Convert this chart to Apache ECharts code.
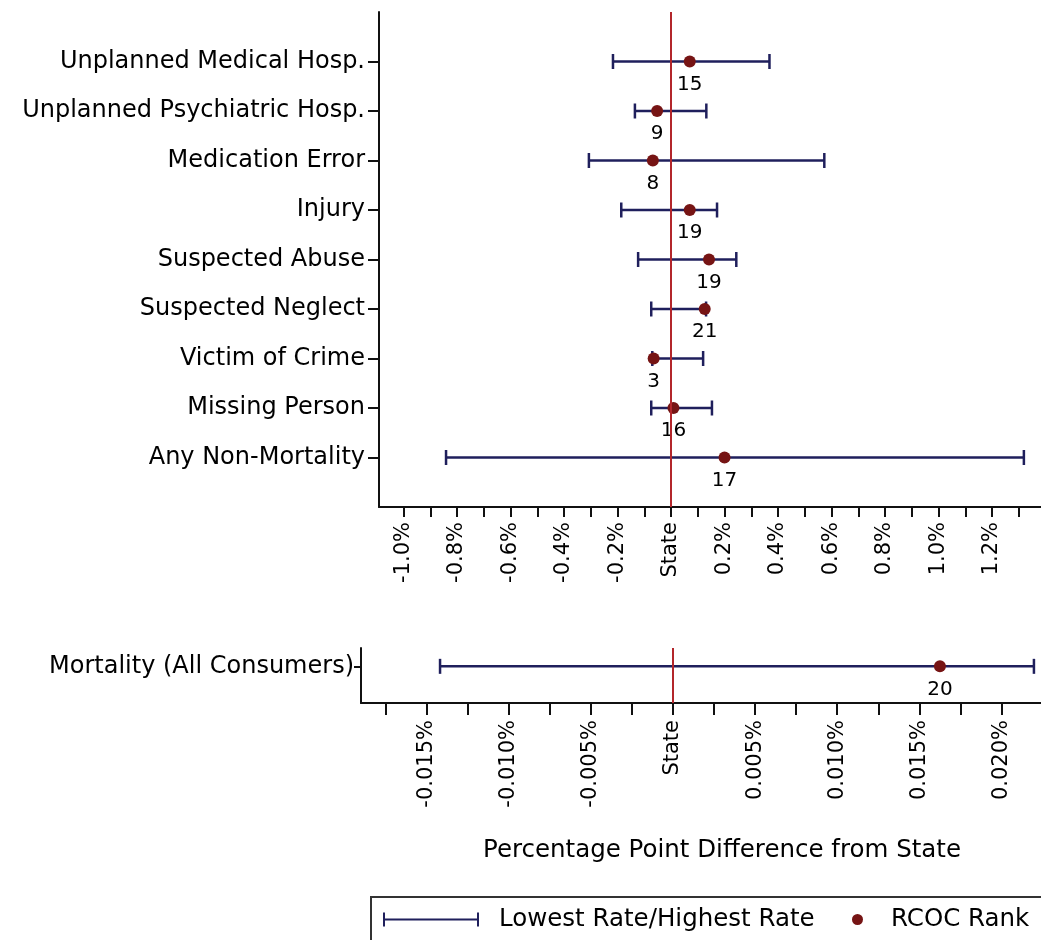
<!DOCTYPE html>
<html>
<head>
<meta charset="utf-8">
<script src="https://cdn.jsdelivr.net/npm/echarts@6/dist/echarts.min.js"></script>
<style>
  html, body { margin: 0; padding: 0; background: #fff; overflow: hidden; }
  #chart { width: 1041px; height: 940px; }
</style>
</head>
<body>
<div id="chart"></div>
<script>
// Non-mortality measures, listed top to bottom (percentage point difference from State)
const measures = ['Unplanned Medical Hosp.', 'Unplanned Psychiatric Hosp.', 'Medication Error', 'Injury',
  'Suspected Abuse', 'Suspected Neglect', 'Victim of Crime', 'Missing Person', 'Any Non-Mortality'];
const lowestRate  = [-0.217, -0.135, -0.307, -0.186, -0.123, -0.074, -0.070, -0.074, -0.841];
const highestRate = [0.368, 0.132, 0.573, 0.172, 0.244, 0.131, 0.120, 0.153, 1.319];
const rcocValue   = [0.070, -0.052, -0.068, 0.070, 0.142, 0.126, -0.065, 0.009, 0.200];
const rcocRank    = [15, 9, 8, 19, 19, 21, 3, 16, 17];

// Mortality (all consumers)
const mortalityLabel = 'Mortality (All Consumers)';
const mortalityLow = -0.01417;
const mortalityHigh = 0.02197;
const mortalityValue = 0.01625;
const mortalityRank = 20;

// Axis ticks and labels
const topLabelTicks = [-1.0, -0.8, -0.6, -0.4, -0.2, 0, 0.2, 0.4, 0.6, 0.8, 1.0, 1.2];
const topMinorTicks = [-1.0, -0.9, -0.8, -0.7, -0.6, -0.5, -0.4, -0.3, -0.2, -0.1, 0, 0.1, 0.2, 0.3,
  0.4, 0.5, 0.6, 0.7, 0.8, 0.9, 1.0, 1.1, 1.2, 1.3];
const bottomLabelTicks = [-0.015, -0.010, -0.005, 0, 0.005, 0.010, 0.015, 0.020];
const bottomMinorTicks = [-0.0175, -0.015, -0.0125, -0.010, -0.0075, -0.005, -0.0025, 0, 0.0025,
  0.005, 0.0075, 0.010, 0.0125, 0.015, 0.0175, 0.020];

const FONT = 'DejaVu Sans';
const NAVY = '#1f1f5c';
const DOT = '#761414';
const REF = '#b3262b';
const BAR_NAME = 'Lowest Rate/Highest Rate';
const DOT_NAME = 'RCOC Rank';

const n = measures.length;
const topBars = measures.map((m, i) => [n - i, lowestRate[i], highestRate[i]]);
const topDots = measures.map((m, i) => [rcocValue[i], n - i, rcocRank[i]]);

function renderErrorBar(params, api) {
  const y = api.value(0);
  const a = api.coord([api.value(1), y]);
  const b = api.coord([api.value(2), y]);
  const h = 7.5;
  const style = { stroke: NAVY, lineWidth: 2.5, fill: null };
  return {
    type: 'group',
    children: [
      { type: 'line', shape: { x1: a[0], y1: a[1], x2: b[0], y2: b[1] }, style },
      { type: 'line', shape: { x1: a[0], y1: a[1] - h, x2: a[0], y2: a[1] + h }, style },
      { type: 'line', shape: { x1: b[0], y1: b[1] - h, x2: b[0], y2: b[1] + h }, style }
    ]
  };
}

const axisLine = { show: true, onZero: false, lineStyle: { color: '#111', width: 2 } };
const tickStyle = { color: '#111', width: 2 };

const refLine = {
  silent: true,
  symbol: 'none',
  label: { show: false },
  lineStyle: { color: REF, width: 2, type: 'solid' },
  data: [{ xAxis: 0 }]
};

const rankLabel = {
  show: true,
  position: 'bottom',
  distance: 7,
  color: '#000',
  fontFamily: FONT,
  fontSize: 20,
  formatter: p => String(p.value[2])
};

const chart = echarts.init(document.getElementById('chart'), null, { renderer: 'canvas' });

chart.setOption({
  backgroundColor: '#fff',
  animation: false,
  textStyle: { fontFamily: FONT },
  grid: [
    { left: 379, top: 12, right: 0, height: 495 },
    { left: 361, top: 648, right: 0, height: 55 }
  ],
  xAxis: [
    {
      type: 'value', gridIndex: 0, min: -1.0916, max: 1.383,
      splitLine: { show: false },
      axisLine,
      axisTick: { show: true, length: 10, lineStyle: tickStyle, customValues: topMinorTicks },
      axisLabel: {
        rotate: 90, margin: 15, color: '#000', fontFamily: FONT, fontSize: 21,
        customValues: topLabelTicks,
        formatter: v => (Math.abs(v) < 1e-9 ? 'State' : v.toFixed(1) + '%')
      }
    },
    {
      type: 'value', gridIndex: 1, min: -0.01898, max: 0.0224,
      splitLine: { show: false },
      axisLine,
      axisTick: { show: true, length: 12, lineStyle: tickStyle, customValues: bottomMinorTicks },
      axisLabel: {
        rotate: 90, margin: 17, color: '#000', fontFamily: FONT, fontSize: 21,
        customValues: bottomLabelTicks,
        formatter: v => (Math.abs(v) < 1e-9 ? 'State' : v.toFixed(3) + '%')
      }
    }
  ],
  yAxis: [
    {
      type: 'value', gridIndex: 0, min: 0, max: n + 1,
      splitLine: { show: false },
      axisLine,
      axisTick: { show: true, length: 11, lineStyle: tickStyle, customValues: measures.map((m, i) => n - i) },
      axisLabel: {
        margin: 14, color: '#000', fontFamily: FONT, fontSize: 24,
        customValues: measures.map((m, i) => n - i),
        formatter: v => measures[n - v] || ''
      }
    },
    {
      type: 'value', gridIndex: 1, min: 0, max: 3,
      splitLine: { show: false },
      axisLine,
      axisTick: { show: true, length: 7, lineStyle: tickStyle, customValues: [2] },
      axisLabel: {
        margin: 7, color: '#000', fontFamily: FONT, fontSize: 24,
        customValues: [2],
        formatter: () => mortalityLabel
      }
    }
  ],
  legend: [
    {
      data: [{
        name: BAR_NAME,
        icon: 'path://M0,0H2V14H0Z M94,0H96V14H94Z M0,6H96V8H0Z'
      }],
      left: 383, top: 907, padding: 0,
      itemWidth: 96, itemHeight: 14,
      selectedMode: false,
      textStyle: { color: '#000', fontFamily: FONT, fontSize: 24.5, padding: [0, 0, 0, 15] }
    },
    {
      data: [{ name: DOT_NAME, icon: 'circle' }],
      left: 852, top: 907, padding: 0,
      itemWidth: 11, itemHeight: 11,
      selectedMode: false,
      textStyle: { color: '#000', fontFamily: FONT, fontSize: 24.5, padding: [0, 0, 0, 23] }
    }
  ],
  graphic: [
    {
      type: 'text',
      style: {
        x: 722, y: 851, text: 'Percentage Point Difference from State',
        textAlign: 'center', textVerticalAlign: 'middle',
        fontFamily: FONT, fontSize: 24.5, fill: '#000'
      }
    },
    {
      type: 'rect', silent: true, z: 0,
      shape: { x: 371, y: 897, width: 720, height: 100 },
      style: { fill: 'none', stroke: '#333', lineWidth: 2 }
    }
  ],
  series: [
    {
      name: BAR_NAME, type: 'custom', xAxisIndex: 0, yAxisIndex: 0,
      itemStyle: { color: NAVY },
      encode: { x: [1, 2], y: 0 },
      renderItem: renderErrorBar,
      data: topBars,
      markLine: refLine,
      z: 2
    },
    {
      name: DOT_NAME, type: 'scatter', xAxisIndex: 0, yAxisIndex: 0,
      symbol: 'circle', symbolSize: 12,
      itemStyle: { color: DOT, opacity: 1 },
      label: rankLabel,
      data: topDots,
      z: 3
    },
    {
      name: BAR_NAME, type: 'custom', xAxisIndex: 1, yAxisIndex: 1,
      itemStyle: { color: NAVY },
      encode: { x: [1, 2], y: 0 },
      renderItem: renderErrorBar,
      data: [[2, mortalityLow, mortalityHigh]],
      markLine: refLine,
      z: 2
    },
    {
      name: DOT_NAME, type: 'scatter', xAxisIndex: 1, yAxisIndex: 1,
      symbol: 'circle', symbolSize: 12,
      itemStyle: { color: DOT, opacity: 1 },
      label: rankLabel,
      data: [[mortalityValue, 2, mortalityRank]],
      z: 3
    }
  ]
});
</script>
</body>
</html>
